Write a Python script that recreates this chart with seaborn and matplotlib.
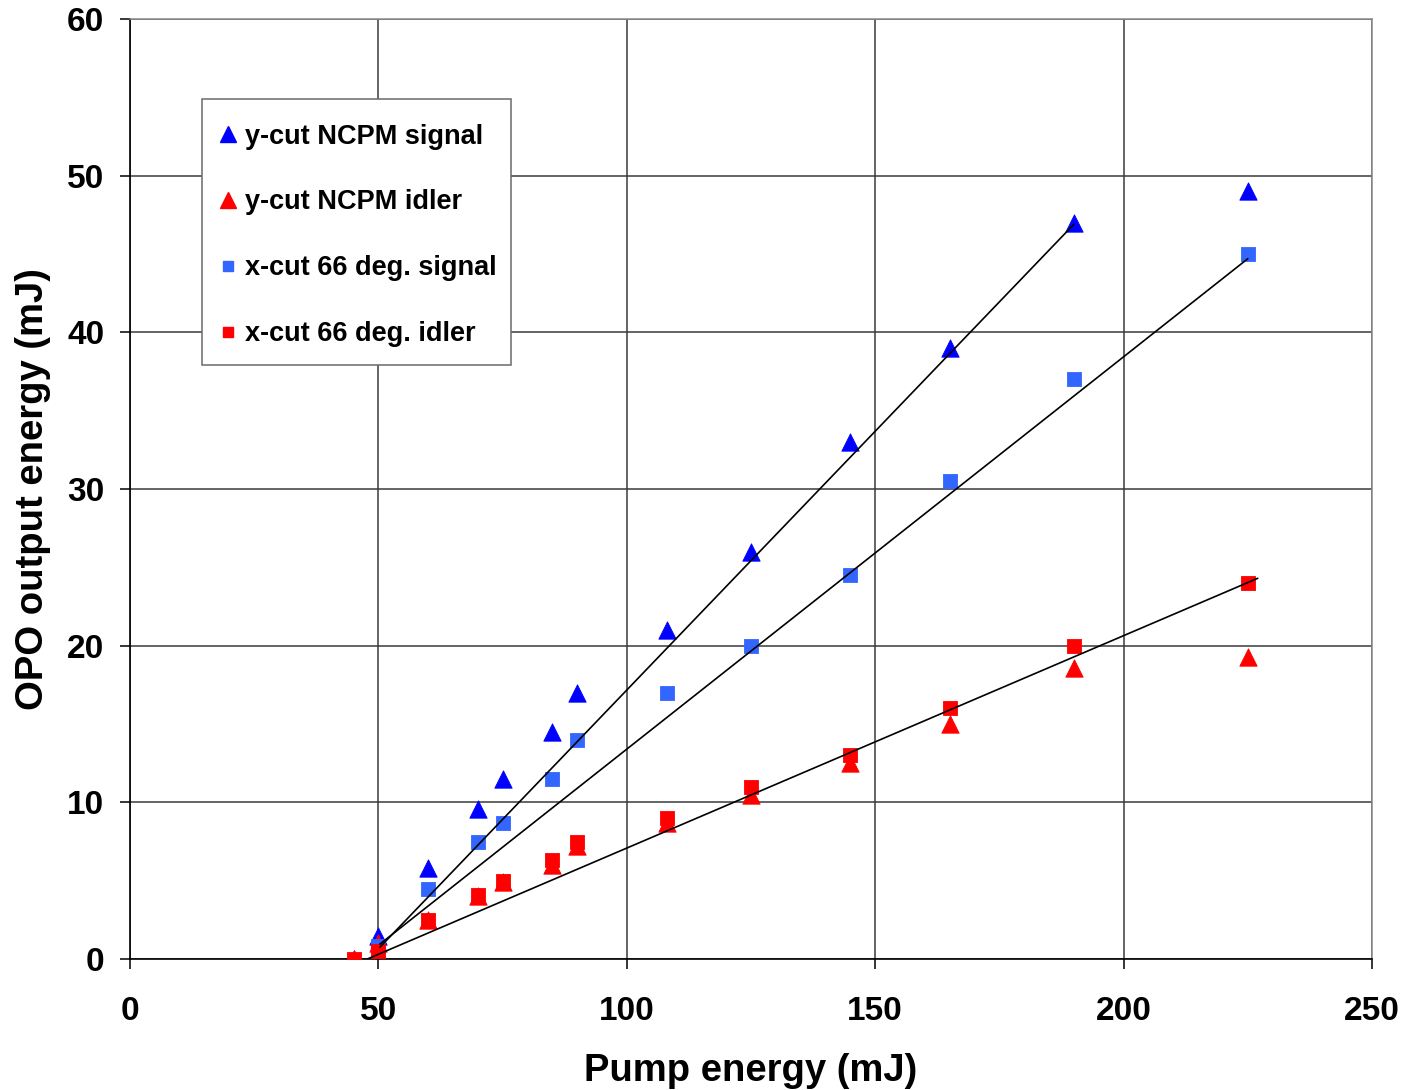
import matplotlib
matplotlib.use("Agg")
import matplotlib.pyplot as plt
import seaborn as sns
import pandas as pd
from matplotlib.lines import Line2D
from matplotlib.patches import Rectangle

# ---- data ----
pump = [45, 50, 60, 70, 75, 85, 90, 108, 125, 145, 165, 190, 225]
ycut_signal = [0, 1.5, 5.8, 9.6, 11.5, 14.5, 17, 21, 26, 33, 39, 47, 49]
ycut_idler = [0, 1.0, 2.5, 4.0, 4.9, 6.0, 7.2, 8.7, 10.5, 12.5, 15, 18.6, 19.3]
xcut_signal = [None, 0.8, 4.5, 7.5, 8.7, 11.5, 14, 17, 20, 24.5, 30.5, 37, 45]
xcut_idler = [0, 0.5, 2.5, 4.1, 5.0, 6.3, 7.5, 9.0, 11, 13, 16, 20, 24]

series_names = ["y-cut NCPM signal", "y-cut NCPM idler",
                "x-cut 66 deg. signal", "x-cut 66 deg. idler"]

# trend lines (endpoints)
fit1_x = [50.3, 190]
fit1_y = [0.75, 46.9]
fit2_x = [50.3, 225]
fit2_y = [0.95, 44.7]
fit3_x = [46.3, 227]
fit3_y = [-0.2, 24.3]

x_ticks = [0, 50, 100, 150, 200, 250]
y_ticks = [0, 10, 20, 30, 40, 50, 60]

# ---- build long table ----
rows = []
for name, vals in zip(series_names, [ycut_signal, ycut_idler, xcut_signal, xcut_idler]):
    for px, v in zip(pump, vals):
        if v is not None:
            rows.append({"pump": px, "out": v, "series": name})
df = pd.DataFrame(rows)

sns.set_theme(style="white")
plt.rcParams["font.family"] = ["Liberation Sans", "DejaVu Sans"]
plt.rcParams["font.weight"] = "bold"
plt.rcParams["text.color"] = "black"
plt.rcParams["axes.labelcolor"] = "black"
plt.rcParams["xtick.color"] = "black"
plt.rcParams["ytick.color"] = "black"

W, H = 1407, 1090
fig = plt.figure(figsize=(W / 100, H / 100), dpi=100)
ax = fig.add_axes([130 / W, 1 - 959 / H, 1242 / W, 940 / H])

colors = {"y-cut NCPM signal": "#0000FF", "y-cut NCPM idler": "#FF0000",
          "x-cut 66 deg. signal": "#3366FF", "x-cut 66 deg. idler": "#FF0000"}
markers = {"y-cut NCPM signal": "^", "y-cut NCPM idler": "^",
           "x-cut 66 deg. signal": "s", "x-cut 66 deg. idler": "s"}
sizes = {"^": 12.5, "s": 9.5}

# fit lines
for fx, fy in [(fit1_x, fit1_y), (fit2_x, fit2_y), (fit3_x, fit3_y)]:
    ax.plot(fx, fy, color="black", lw=1.2, zorder=5)

for name in series_names:
    sub = df[df["series"] == name]
    m = markers[name]
    sns.scatterplot(data=sub, x="pump", y="out", ax=ax, marker=m,
                    color=colors[name], s=sizes[m] ** 2, linewidth=0.6,
                    edgecolor=colors[name], zorder=4, legend=False)

ax.set_xlim(0, 250)
ax.set_ylim(0, 60)
ax.set_xticks(x_ticks)
ax.set_yticks(y_ticks)
ax.set_xticklabels([str(t) for t in x_ticks], fontsize=24, fontweight="bold", color="black")
ax.set_yticklabels([str(t) for t in y_ticks], fontsize=24, fontweight="bold", color="black")
ax.grid(True, color="#3a3a3a", lw=1.1)
ax.set_axisbelow(True)
ax.tick_params(axis="both", direction="out", length=7.5, width=1.1,
               color="black", bottom=True, left=True)
ax.tick_params(axis="x", pad=19)
ax.tick_params(axis="y", pad=11)

for side in ["top", "right"]:
    ax.spines[side].set_color("#8a8a8a")
    ax.spines[side].set_linewidth(1.1)
for side in ["left", "bottom"]:
    ax.spines[side].set_color("black")
    ax.spines[side].set_linewidth(1.2)

ax.set_xlabel("Pump energy (mJ)", fontsize=27.5, fontweight="bold", color="black")
ax.set_ylabel("OPO output energy (mJ)", fontsize=27.5, fontweight="bold", color="black")
ax.xaxis.set_label_coords(0.5, -0.1)
ax.yaxis.set_label_coords(-0.064, 0.5)

# legend frame box
box = Rectangle(((202 - 130) / 1242, (959 - 365) / 940), 309 / 1242, 266 / 940,
                transform=ax.transAxes, facecolor="white", edgecolor="#6a6a6a",
                lw=1.1, zorder=6)
ax.add_patch(box)

handles = [Line2D([], [], linestyle="none", marker=markers[n], color=colors[n],
                  markersize=sizes[markers[n]] * (0.95 if markers[n] == "^" else 0.8))
           for n in series_names]
leg = ax.legend(handles, series_names, loc="upper left",
                bbox_to_anchor=((218 - 130) / 1242, (959 - 123.5) / 940),
                borderaxespad=0, frameon=False,
                prop={"size": 19.5, "weight": "bold"},
                labelspacing=1.475, handlelength=0.75, handletextpad=0.26,
                borderpad=0)
leg.set_zorder(7)
for t in leg.get_texts():
    t.set_color("black")

fig.savefig("out.png", dpi=100, facecolor="white")
